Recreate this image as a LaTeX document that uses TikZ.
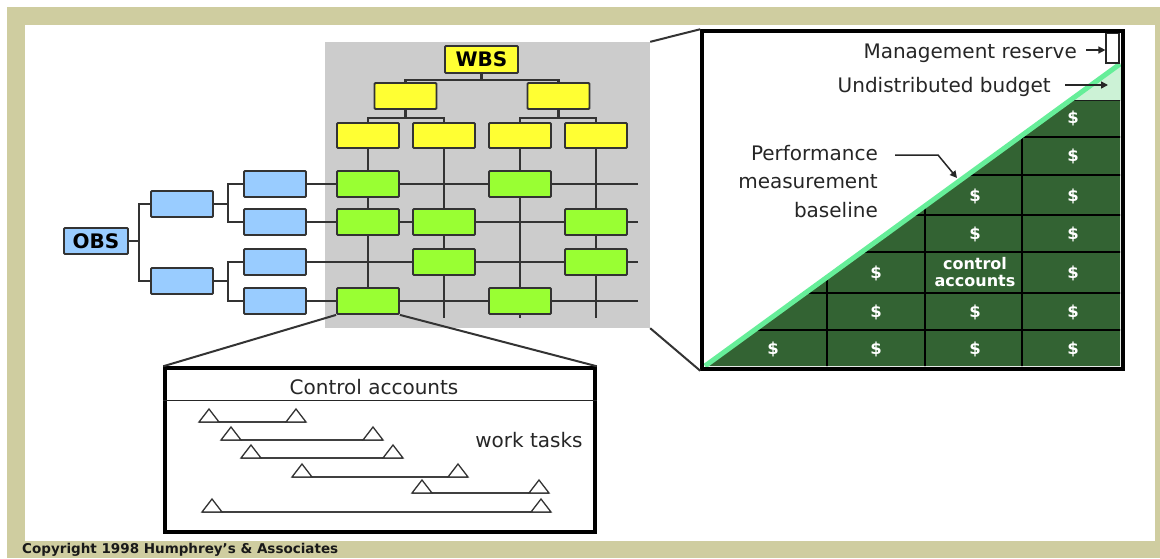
\documentclass[tikz,border=0pt]{standalone}
\usepackage{fontspec}
\setmainfont{DejaVu Sans}
\usetikzlibrary{arrows.meta}
\definecolor{framecol}{RGB}{207,205,160}
\definecolor{areagray}{RGB}{204,204,204}
\definecolor{wbsyellow}{RGB}{255,255,51}
\definecolor{calime}{RGB}{153,255,51}
\definecolor{obsblue}{RGB}{153,204,255}
\definecolor{cadark}{RGB}{51,99,51}
\definecolor{pmbgreen}{RGB}{102,238,153}
\definecolor{ubmint}{RGB}{204,242,214}
\pgfdeclarelayer{frame}
\pgfdeclarelayer{lines}
\pgfsetlayers{frame,lines,main}
\tikzstyle{box}=[draw=black!80, line width=1.8pt, rounded corners=1pt, minimum width=62pt, minimum height=26pt, inner sep=0pt, font=\fontsize{20}{20}\selectfont\bfseries]
\tikzstyle{obox}=[box, fill=obsblue]
\tikzstyle{wbox}=[box, fill=wbsyellow]
\tikzstyle{cbox}=[box, fill=calime]
\tikzstyle{link}=[draw=black!80, line width=2pt]
\tikzstyle{ptr}=[draw=black!85, line width=1.5pt, -{Triangle[length=7pt,width=7pt]}]
\tikzstyle{lbl}=[inner sep=0pt, text=black!85, font=\fontsize{20}{28.5}\selectfont]
\tikzstyle{cash}=[inner sep=0pt, text=white, font=\fontsize{16.5}{16.5}\selectfont\bfseries]

\begin{document}
\begin{tikzpicture}[x=1pt, y=-1pt]
    \useasboundingbox (0,0) rectangle (1160,558);
    \clip (0,0) rectangle (1160,558);
    \begin{pgfonlayer}{frame}
        \fill[white] (0,0) rectangle (1160,558);
        \fill[framecol] (7,7) rectangle (1160,558);
        \fill[white] (25,25) rectangle (1155,541);
        \node[fill=areagray, minimum width=325pt, minimum height=286pt, inner sep=0pt] (wbsarea) at (487.5,185) {};
    \end{pgfonlayer}
    \coordinate (rowend) at (638,0);
    \coordinate (colend) at (0,318);

    % OBS
    \node[obox, minimum width=64pt] (OBS) at (96,241) {OBS};
    \node[obox] (B1) at (182,204) {};
    \node[obox] (B2) at (182,281) {};
    \node[obox] (C1) at (275,184) {};
    \node[obox] (C2) at (275,222) {};
    \node[obox] (C3) at (275,262) {};
    \node[obox] (C4) at (275,301) {};

    % WBS
    \node[wbox, minimum width=73pt, minimum height=27pt] (WBS) at (481.5,59.5) {WBS};
    \node[wbox] (W1) at (405.5,96) {};
    \node[wbox] (W2) at (558.5,96) {};
    \foreach \n/\x in {1/368,2/444,3/520,4/596}
        \node[wbox, minimum height=25pt] (Y\n) at (\x,135.5) {};
    \foreach \r/\c in {1/1,1/3,2/1,2/2,2/4,3/2,3/4,4/1,4/3}
        \node[cbox] (G\r\c) at (Y\c |- C\r) {};

    \begin{pgfonlayer}{lines}
        \draw[link] (OBS.east) -- ([xshift=-11pt]B1.west |- OBS.east);
        \draw[link] (B1.west) -- ++(-11,0) |- (B2.west);
        \draw[link] (B1.east) -- ([xshift=-15pt]C1.west |- B1.east);
        \draw[link] (C1.west) -- ++(-15,0) |- (C2.west);
        \draw[link] (B2.east) -- ([xshift=-15pt]C3.west |- B2.east);
        \draw[link] (C3.west) -- ++(-15,0) |- (C4.west);
        \foreach \r in {1,...,4}
            \draw[link] (C\r.east) -- (C\r.east -| rowend);
        \draw[link, line width=2.5pt] (WBS.south) -- ++(0,6) -| (W1.north);
        \draw[link, line width=2.5pt] (WBS.south) ++(0,6) -| (W2.north);
        \draw[link, line width=2.5pt] (W1.south) -- ++(0,8) -| (Y1.north);
        \draw[link, line width=2.5pt] (W1.south) ++(0,8) -| (Y2.north);
        \draw[link, line width=2.5pt] (W2.south) -- ++(0,8) -| (Y3.north);
        \draw[link, line width=2.5pt] (W2.south) ++(0,8) -| (Y4.north);
        \draw[link] (Y1.south) -- (G41.north);
        \foreach \c in {2,3,4}
            \draw[link] (Y\c.south) -- (Y\c.south |- colend);
    \end{pgfonlayer}

    % control account grid
    \begin{scope}
        \clip (705,366) -- (1070,100) -- (1120,100) -- (1120,366) -- cycle;
        \fill[cadark] (702,31) rectangle (1123,369);
        \foreach \x in {827,925,1022}
            \draw[black, line width=1.8pt] (\x,31) -- (\x,369);
        \foreach \y in {100,137,175,215,252,293,330}
            \draw[black, line width=1.8pt] (702,\y) -- (1123,\y);
    \end{scope}
    \fill[ubmint] (1070,100) -- (1121,63) -- (1121,100) -- cycle;
    \draw[pmbgreen, line width=5pt] (705,366) -- (1120,64);
    \foreach \x/\y in {1073/118,1073/156,1073/196,1073/234,1073/273,1073/312,1073/349,
                       975/196,975/234,975/312,975/349,876/273,876/312,876/349,773/349}
        \node[cash] (cash-\x-\y) at (\x,\y) {\$};
    \node[cash, font=\fontsize{16}{16.5}\selectfont\bfseries, align=center] (catext) at (975,272) {control\\accounts};
    \node[draw=black!85, line width=1.2pt, fill=white, minimum width=13pt, minimum height=30pt, inner sep=0pt] (mrbox) at (1112.5,48) {};
    \node[draw=black, line width=3.5pt, minimum width=421pt, minimum height=338pt, inner sep=0pt] (panel) at (912.5,200) {};

    \node[lbl, anchor=east] (mrlbl) at (1077,53) {Management reserve};
    \draw[ptr, shorten <=9pt] ([yshift=3pt]mrlbl.east) -- ([yshift=3pt]mrlbl.east -| mrbox.west);
    \node[lbl, anchor=east] (ublbl) at (1051,87) {Undistributed budget};
    \coordinate (ubend) at (1108,85);
    \draw[ptr, shorten <=14pt] (ublbl.east |- ubend) -- (ubend);
    \node[lbl, anchor=north east, align=right] (pmlbl) at (878,145) {Performance\\measurement\\baseline};
    \coordinate (pmtip) at (957,178);
    \draw[ptr] ([xshift=17pt,yshift=-10pt]pmlbl.north east) -- ++(43,0) -- (pmtip);

    \draw[link] (wbsarea.north east) -- (panel.north west);
    \draw[link] (wbsarea.south east) -- (panel.south west);

    % work tasks
    \node[draw=black, line width=3.5pt, fill=white, minimum width=430pt, minimum height=164pt, inner sep=0pt] (cabox) at (380,450) {};
    \draw[link] (G41.south west) -- (cabox.north west);
    \draw[link] (G41.south east) -- (cabox.north east);
    \draw[black!85, line width=1.5pt] ([yshift=-34pt]cabox.north west) -- ([yshift=-34pt]cabox.north east);
    \node[lbl] (cahead) at (374,387) {Control accounts};
    \node[lbl] (wtlbl) at (529,440) {work tasks};
    \foreach \y/\a/\b in {422/199/306,440/221/383,458/241/403,477/292/468,493/412/549,512/202/551} {
        \draw[black!75, line width=2pt] (\a,\y) -- (\b,\y);
        \draw[black!80, line width=1.3pt, fill=white] (\a,\y) -- ++(10,-13) -- ++(10,13) -- cycle;
        \draw[black!80, line width=1.3pt, fill=white] (\b,\y) -- ++(-10,-13) -- ++(-10,13) -- cycle;
    }

    \node[anchor=base west, inner sep=0pt, text=black!90, font=\fontsize{13.5}{14}\selectfont\bfseries] (copy) at (22,553.5) {Copyright 1998 Humphrey's \& Associates};
\end{tikzpicture}
\end{document}
